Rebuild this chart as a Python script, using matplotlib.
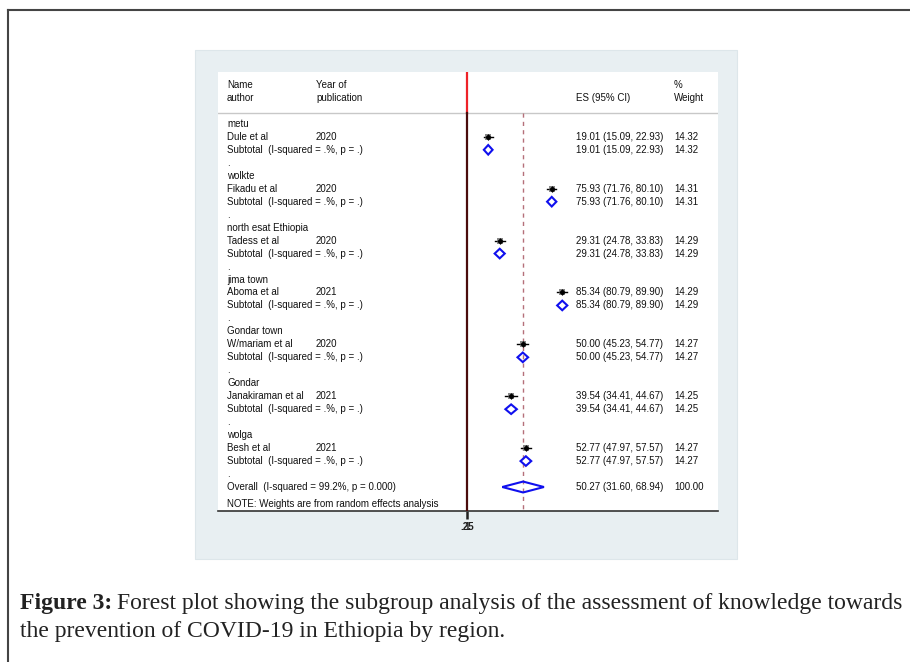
import matplotlib
matplotlib.use("Agg")
import matplotlib.pyplot as plt
import matplotlib.transforms as mtransforms
from matplotlib.patches import Rectangle, Polygon
from matplotlib.lines import Line2D

# ---------------- data ----------------
regions = ["metu", "wolkte", "north esat Ethiopia", "jima town",
           "Gondar town", "Gondar", "wolga"]
authors = ["Dule et al", "Fikadu et al", "Tadess et al", "Aboma et al",
           "W/mariam et al", "Janakiraman et al", "Besh et al"]
years = ["2020", "2020", "2020", "2021", "2020", "2021", "2021"]
es = [19.01, 75.93, 29.31, 85.34, 50.00, 39.54, 52.77]
lo = [15.09, 71.76, 24.78, 80.79, 45.23, 34.41, 47.97]
hi = [22.93, 80.10, 33.83, 89.90, 54.77, 44.67, 57.57]
weights = [14.32, 14.31, 14.29, 14.29, 14.27, 14.25, 14.27]
overall_es, overall_lo, overall_hi = 50.27, 31.60, 68.94
overall_i2, overall_p = 99.2, 0.000
xtick_labels = [".25", "1"]

# ---------------- layout ----------------
W, H = 910, 662
fig = plt.figure(figsize=(W / 100, H / 100), dpi=100)
fig.patch.set_facecolor("white")
plt.rcParams["font.family"] = ["Liberation Sans", "DejaVu Sans"]

# outer page frame (top and left)
fig.add_artist(Line2D([8 / W, 1.0], [1 - 10 / H, 1 - 10 / H], color="#444444", lw=1.5))
fig.add_artist(Line2D([8 / W, 8 / W], [1 - 10 / H, 0.0], color="#444444", lw=1.5))

# light panel behind the graph
panel = Rectangle((195 / W, 1 - 559 / H), (737 - 195) / W, (559 - 50) / H,
                  facecolor="#e8eff2", edgecolor="#dde6ea", lw=0.8,
                  transform=fig.transFigure)
panel.set_zorder(-10)
fig.add_artist(panel)

ax = fig.add_axes([218 / W, 1 - 511 / H, 500 / W, (511 - 72) / H])
ax.set_zorder(1)
ax.set_facecolor("white")
ax.set_xlim(-223.1, 224.9)
ax.set_ylim(29.85, -4.0)
for s in ["top", "left", "right"]:
    ax.spines[s].set_visible(False)
ax.spines["bottom"].set_color("#333333")
ax.spines["bottom"].set_linewidth(1.2)
ax.set_yticks([])
ax.set_xticks([0])
ax.set_xticklabels([""])
ax.tick_params(axis="x", length=6, width=1.8, color="#222222")
xt = ax.get_xaxis_transform()
for lab in xtick_labels:
    ax.text(0, -0.024, lab, transform=xt, ha="center", va="top", fontsize=7,
            color="#222222", fontweight="bold")

trans = mtransforms.blended_transform_factory(ax.transAxes, ax.transData)
fs = 7
tc = "#111111"
col_name, col_year, col_es, col_w = 0.018, 0.196, 0.716, 0.912

# header
ax.text(col_name, -3, "Name", transform=trans, fontsize=fs, va="center", color=tc)
ax.text(col_name, -2, "author", transform=trans, fontsize=fs, va="center", color=tc)
ax.text(col_year, -3, "Year of", transform=trans, fontsize=fs, va="center", color=tc)
ax.text(col_year, -2, "publication", transform=trans, fontsize=fs, va="center", color=tc)
ax.text(col_es, -2, "ES (95% CI)", transform=trans, fontsize=fs, va="center", color=tc)
ax.text(col_w, -3, "%", transform=trans, fontsize=fs, va="center", color=tc)
ax.text(col_w, -2, "Weight", transform=trans, fontsize=fs, va="center", color=tc)
hdr = -0.85
ax.axhline(hdr, color="#c8c8c8", lw=1.0)

# reference lines
ax.plot([0, 0], [-4.0, hdr], color="#ee2228", lw=1.6, zorder=3)
ax.plot([0, 0], [hdr, 29.85], color="#4a0c0c", lw=1.6, zorder=3)
ax.plot([overall_es, overall_es], [hdr, 29.85], color="#b5707a", lw=1.0,
        dashes=(3, 3), zorder=2)

# groups
for g in range(len(regions)):
    r = 4 * g
    ax.text(col_name, r, regions[g], transform=trans, fontsize=fs, va="center", color=tc)
    ax.text(col_name, r + 1, authors[g], transform=trans, fontsize=fs, va="center", color=tc)
    ax.text(col_year, r + 1, years[g], transform=trans, fontsize=fs, va="center", color=tc)
    ax.text(col_name, r + 2, "Subtotal  (I-squared = .%, p = .)", transform=trans,
            fontsize=fs, va="center", color=tc)
    ax.text(col_name, r + 3, ".", transform=trans, fontsize=fs, va="center", color=tc)
    txt = f"{es[g]:.2f} ({lo[g]:.2f}, {hi[g]:.2f})"
    for rr in (r + 1, r + 2):
        ax.text(col_es, rr, txt, transform=trans, fontsize=fs, va="center", color=tc)
        ax.text(col_w, rr, f"{weights[g]:.2f}", transform=trans, fontsize=fs,
                va="center", color=tc)
    # study estimate
    ax.plot([lo[g], hi[g]], [r + 1, r + 1], color="black", lw=1.0, zorder=4)
    ax.plot([es[g]], [r + 1], marker="s", markersize=4.5, color="#8a8a8a",
            markeredgewidth=0, zorder=4)
    ax.plot([es[g]], [r + 1], marker="D", markersize=3.4, color="black",
            markeredgewidth=0, zorder=5)
    # subtotal diamond
    d = 0.37
    ax.add_patch(Polygon([(lo[g], r + 2), (es[g], r + 2 - d), (hi[g], r + 2),
                          (es[g], r + 2 + d)], closed=True, fill=False,
                         edgecolor="#1010ee", lw=1.5, zorder=5))

# overall
ro = 28
ax.text(col_name, ro, f"Overall  (I-squared = {overall_i2:.1f}%, p = {overall_p:.3f})",
        transform=trans, fontsize=fs, va="center", color=tc)
ax.text(col_es, ro, f"{overall_es:.2f} ({overall_lo:.2f}, {overall_hi:.2f})",
        transform=trans, fontsize=fs, va="center", color=tc)
ax.text(col_w, ro, f"{sum(weights):.2f}", transform=trans, fontsize=fs,
        va="center", color=tc)
d = 0.42
ax.add_patch(Polygon([(overall_lo, ro), (overall_es, ro - d), (overall_hi, ro),
                      (overall_es, ro + d)], closed=True, fill=False,
                     edgecolor="#1010ee", lw=1.5, zorder=5))
ax.text(col_name, 29.3, "NOTE: Weights are from random effects analysis",
        transform=trans, fontsize=fs, va="center", color=tc)

# ---------------- caption ----------------
cap_font = ["Liberation Serif", "DejaVu Serif"]
cfs = 17.0
y1 = 1 - 604 / H
y2 = 1 - 632 / H
x0 = 20 / W
t_bold = fig.text(x0, y1, "Figure 3:", fontsize=cfs, fontweight="bold",
                  family=cap_font, va="center", color="#222222")
fig.canvas.draw()
rend = fig.canvas.get_renderer()
bb = t_bold.get_window_extent(rend)
fig.text((bb.x1 + 5) / W, y1,
         "Forest plot showing the subgroup analysis of the assessment of knowledge towards",
         fontsize=cfs, family=cap_font, va="center", color="#222222")
fig.text(x0, y2, "the prevention of COVID-19 in Ethiopia by region.",
         fontsize=cfs, family=cap_font, va="center", color="#222222")

fig.savefig("out.png", dpi=100, facecolor="white")
